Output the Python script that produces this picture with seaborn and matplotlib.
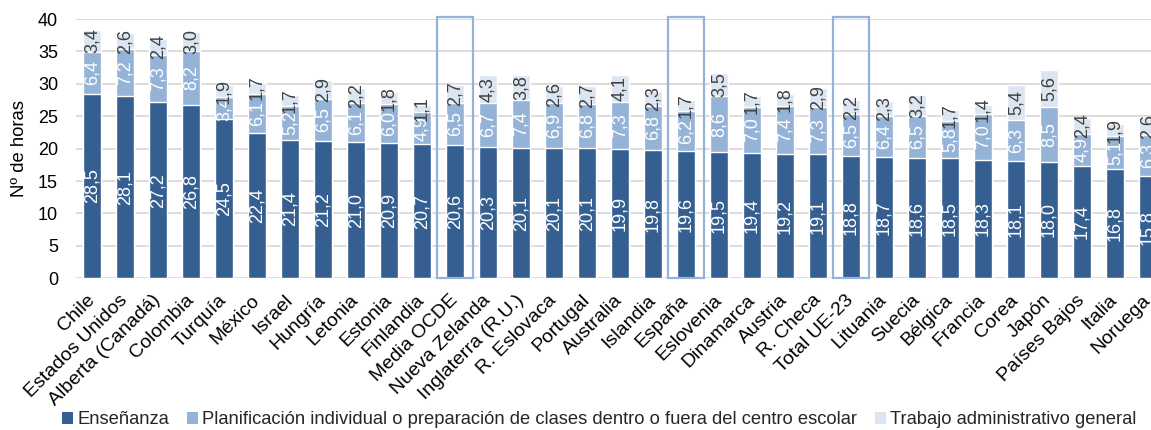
import matplotlib
matplotlib.use("Agg")
import matplotlib.pyplot as plt
import matplotlib.transforms as mtransforms
import seaborn as sns
import numpy as np
from matplotlib.patches import Rectangle, Patch

paises = ["Chile", "Estados Unidos", "Alberta (Canadá)", "Colombia", "Turquía", "México",
          "Israel", "Hungría", "Letonia", "Estonia", "Finlandia", "Media OCDE",
          "Nueva Zelanda", "Inglaterra (R.U.)", "R. Eslovaca", "Portugal", "Australia",
          "Islandia", "España", "Eslovenia", "Dinamarca", "Austria", "R. Checa",
          "Total UE-23", "Lituania", "Suecia", "Bélgica", "Francia", "Corea", "Japón",
          "Países Bajos", "Italia", "Noruega"]

ensenanza = [28.5, 28.1, 27.2, 26.8, 24.5, 22.4, 21.4, 21.2, 21.0, 20.9, 20.7, 20.6,
             20.3, 20.1, 20.1, 20.1, 19.9, 19.8, 19.6, 19.5, 19.4, 19.2, 19.1, 18.8,
             18.7, 18.6, 18.5, 18.3, 18.1, 18.0, 17.4, 16.8, 15.8]
planificacion = [6.4, 7.2, 7.3, 8.2, 3.4, 6.1, 5.2, 6.5, 6.1, 6.0, 4.9, 6.5,
                 6.7, 7.4, 6.9, 6.8, 7.3, 6.8, 6.2, 8.6, 7.0, 7.4, 7.3, 6.5,
                 6.4, 6.5, 5.8, 7.0, 6.3, 8.5, 4.9, 5.1, 6.3]
administrativo = [3.4, 2.6, 2.4, 3.0, 1.9, 1.7, 1.7, 2.9, 2.2, 1.8, 1.1, 2.7,
                  4.3, 3.8, 2.6, 2.7, 4.1, 2.3, 1.7, 3.5, 1.7, 1.8, 2.9, 2.2,
                  2.3, 3.2, 1.7, 1.4, 5.4, 5.6, 2.4, 1.9, 2.6]
destacados = ["Media OCDE", "España", "Total UE-23"]
series = ["Enseñanza",
          "Planificación individual o preparación de clases dentro o fuera del centro escolar",
          "Trabajo administrativo general"]
yticks = [0, 5, 10, 15, 20, 25, 30, 35, 40]

c_dark = "#365F91"
c_mid = "#95B3D7"
c_light = "#DCE6F2"
c_box = "#95B3D7"

sns.set_style("white")
plt.rcParams["font.family"] = ["Liberation Sans", "DejaVu Sans"]

fig = plt.figure(figsize=(11.51, 4.30), dpi=100)
ax = fig.add_axes([0.0656, 0.3528, 0.946, 0.603])

e = np.array(ensenanza)
p = np.array(planificacion)
a = np.array(administrativo)
s2 = e + p
s3 = e + p + a

bw = 0.564
sns.barplot(x=paises, y=s3, color=c_light, saturation=1, width=bw, ax=ax, zorder=2)
sns.barplot(x=paises, y=s2, color=c_mid, saturation=1, width=bw, ax=ax, zorder=3)
sns.barplot(x=paises, y=e, color=c_dark, saturation=1, width=bw, ax=ax, zorder=4)

def fmt(v):
    return f"{v:.1f}".replace(".", ",")

fs_lab = 13
for i in range(len(paises)):
    ax.text(i, e[i] / 2, fmt(e[i]), rotation=90, ha="center", va="center",
            color="white", fontsize=fs_lab, zorder=6)
    ax.text(i, e[i] + p[i] / 2, fmt(p[i]), rotation=90, ha="center", va="center",
            color="white", fontsize=fs_lab, zorder=6)
    ax.text(i, s2[i] + a[i] / 2, fmt(a[i]), rotation=90, ha="center", va="center",
            color="#404040", fontsize=fs_lab, zorder=6)

for name in destacados:
    i = paises.index(name)
    ax.add_patch(Rectangle((i - 0.535, 0), 1.07, 40.3, fill=False, edgecolor=c_box,
                           lw=1.6, zorder=7, clip_on=False))

ax.set_xlim(-0.5, len(paises) - 0.5)
ax.set_ylim(0, 40)
ax.set_yticks(yticks)
ax.yaxis.grid(True, color="#D9D9D9", lw=1.3, zorder=0)
ax.set_axisbelow(True)
for sp in ax.spines.values():
    sp.set_visible(False)
ax.tick_params(axis="y", length=0, labelsize=13, pad=12.6, labelcolor="black")
ax.tick_params(axis="x", length=0, pad=6)
ax.set_xticks(range(len(paises)))
ax.set_xticklabels(paises, rotation=45, ha="right", rotation_mode="anchor",
                   fontsize=14, color="black")
shift = mtransforms.ScaledTranslation(-0.06, -0.05, fig.dpi_scale_trans)
for lab in ax.get_xticklabels():
    lab.set_transform(lab.get_transform() + shift)
ax.set_xlabel("")
ax.set_ylabel("Nº de horas", fontsize=13.3, color="black")
ax.yaxis.set_label_coords(-0.0436, 0.5)

handles = [Patch(facecolor=c, edgecolor="none") for c in (c_dark, c_mid, c_light)]
fig.legend(handles, series, loc="center left", bbox_to_anchor=(0.054, 0.024),
           ncol=3, frameon=False, fontsize=13.2, handlelength=0.6, handleheight=0.6,
           handletextpad=0.25, columnspacing=0.95, borderpad=0, borderaxespad=0)

fig.savefig("out.png", dpi=100)
